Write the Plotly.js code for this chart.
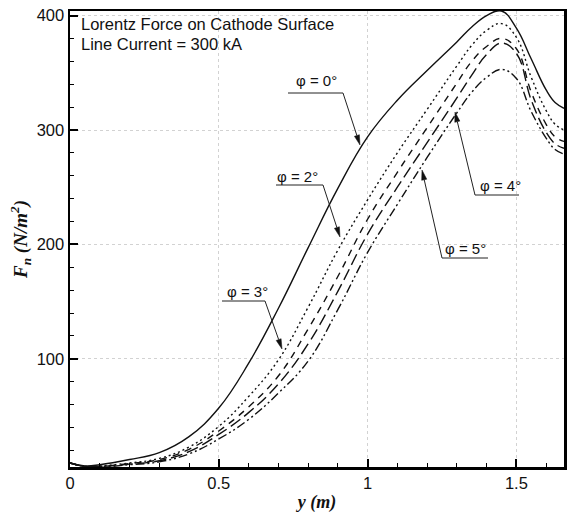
<!DOCTYPE html>
<html>
<head>
<meta charset="utf-8">
<script src="https://cdn.plot.ly/plotly-3.0.1.min.js"></script>
<style>html,body{margin:0;padding:0;background:#fff;}#chart{width:567px;height:513px;}</style>
</head>
<body>
<div id="chart"></div>
<script>
// ---- data ----
const yPos = [0, 0.05, 0.1, 0.2, 0.3, 0.4, 0.5, 0.6, 0.7, 0.8, 0.9, 1.0, 1.1, 1.2, 1.3, 1.35, 1.4, 1.45, 1.5, 1.55, 1.6, 1.63, 1.66];
const fnPhi0 = [9, 6.5, 7.5, 12, 18, 32, 57, 96, 144, 197, 249, 294, 326, 352, 377, 390, 400, 404, 389, 362, 335, 324, 319];
const fnPhi2 = [9, 6, 6.5, 9, 13, 23, 41, 67, 99, 145, 195, 239, 280, 318, 356, 374, 387, 393, 381, 346, 317, 305, 300];
const fnPhi3 = [9, 6, 6, 8.5, 12, 21, 37, 58, 85, 126, 172, 222, 263, 302, 341, 360, 373, 380, 371, 333, 305, 294, 290];
const fnPhi4 = [9, 6, 6, 8, 11, 19, 34, 53, 78, 113, 159, 209, 250, 289, 328, 348, 366, 376, 367, 326, 298, 288, 284];
const fnPhi5 = [9, 6, 5.5, 7.5, 10, 17, 30, 47, 70, 98, 143, 193, 235, 276, 315, 333, 346, 353, 345, 316, 293, 283, 279];
const seriesNames = ['φ = 0°', 'φ = 2°', 'φ = 3°', 'φ = 4°', 'φ = 5°'];
const xTicks = [0, 0.5, 1, 1.5];
const xTickText = ['0', '0.5', '1', '1.5'];
const yTicks = [100, 200, 300, 400];
const yTickText = ['100', '200', '300', '400'];

// ---- layout geometry ----
const W = 567, H = 513;
const M = {l: 70, r: 3, t: 11, b: 46};
const XR = [0, 1.66], YR = [5.5, 404];
const pw = W - M.l - M.r, ph = H - M.t - M.b;
const xd = px => XR[0] + (px - M.l) / pw * (XR[1] - XR[0]);
const yd = py => YR[1] - (py - M.t) / ph * (YR[1] - YR[0]);

const dashes = ['solid', '2px,3px', '7px,6px', '12px,5px', '9px,3px,2px,3px,2px,3px'];
const allY = [fnPhi0, fnPhi2, fnPhi3, fnPhi4, fnPhi5];
const traces = allY.map((ys, i) => ({
  x: yPos, y: ys, type: 'scatter', mode: 'lines', name: seriesNames[i],
  line: {color: '#111', width: 1.4, dash: dashes[i], shape: 'spline', smoothing: 1.2},
  hoverinfo: 'skip'
}));

// label layout (pixel positions): text centre, underline span, leader tail & tip
const labels = [
  {t: seriesNames[0], cx: 316, cy: 80, u0: 288, u1: 343, uy: 93, tail: [343, 93], tip: [360, 145]},
  {t: seriesNames[1], cx: 297, cy: 176, u0: 276, u1: 323, uy: 185, tail: [323, 185], tip: [340, 237]},
  {t: seriesNames[2], cx: 247, cy: 291, u0: 222, u1: 265, uy: 301, tail: [265, 301], tip: [282, 349]},
  {t: seriesNames[3], cx: 500, cy: 185, u0: 475, u1: 519, uy: 195, tail: [475, 195], tip: [455, 112]},
  {t: seriesNames[4], cx: 465, cy: 248, u0: 442, u1: 488, uy: 258, tail: [442, 258], tip: [422, 170]}
];
const annotations = [];
const shapes = [];
labels.forEach(L => {
  annotations.push({x: xd(L.cx), y: yd(L.cy), xref: 'x', yref: 'y', text: L.t, showarrow: false,
    font: {family: 'Liberation Sans, Arial', size: 15, color: '#111'}, xanchor: 'center', yanchor: 'middle'});
  shapes.push({type: 'line', xref: 'x', yref: 'y', x0: xd(L.u0), x1: xd(L.u1), y0: yd(L.uy), y1: yd(L.uy),
    line: {color: '#222', width: 1}});
  const dx = L.tip[0] - L.tail[0], dy = L.tip[1] - L.tail[1];
  const len = Math.hypot(dx, dy), ux = dx / len, uy = dy / len;
  const hl = 10, hw = 2.6;
  const bx = L.tip[0] - hl * ux, by = L.tip[1] - hl * uy;
  shapes.push({type: 'line', xref: 'x', yref: 'y', x0: xd(L.tail[0]), y0: yd(L.tail[1]), x1: xd(bx), y1: yd(by),
    line: {color: '#222', width: 1}});
  const p1 = [bx - hw * uy, by + hw * ux], p2 = [bx + hw * uy, by - hw * ux];
  shapes.push({type: 'path', xref: 'x', yref: 'y',
    path: `M ${xd(L.tip[0])} ${yd(L.tip[1])} L ${xd(p1[0])} ${yd(p1[1])} L ${xd(p2[0])} ${yd(p2[1])} Z`,
    fillcolor: '#111', line: {color: '#111', width: 0.5}});
});
annotations.push({xref: 'paper', yref: 'paper', x: (79 - M.l) / pw, y: 1 - (23.5 - M.t) / ph, xanchor: 'left', yanchor: 'middle',
  text: 'Lorentz Force on Cathode Surface', showarrow: false, font: {family: 'Liberation Sans, Arial', size: 16.5, color: '#111'}});
annotations.push({xref: 'paper', yref: 'paper', x: (79 - M.l) / pw, y: 1 - (44 - M.t) / ph, xanchor: 'left', yanchor: 'middle',
  text: 'Line Current = 300 kA', showarrow: false, font: {family: 'Liberation Sans, Arial', size: 16.5, color: '#111'}});

const axBase = {
  showline: true, linecolor: '#000', linewidth: 2.5, mirror: true,
  ticks: 'inside', ticklen: 8, tickwidth: 2, tickcolor: '#000',
  showgrid: true, gridcolor: '#d2d2d2', gridwidth: 1, griddash: 'dot',
  zeroline: false, tickfont: {family: 'Liberation Sans, Arial', size: 16.5, color: '#111'}
};
const layout = {
  width: W, height: H, margin: M, showlegend: false,
  paper_bgcolor: '#fff', plot_bgcolor: '#fff',
  xaxis: Object.assign({}, axBase, {
    range: XR, tickmode: 'array', tickvals: xTicks, ticktext: xTickText,
    minor: {dtick: 0.1, tick0: 0, ticks: 'inside', ticklen: 4, tickwidth: 1, tickcolor: '#000', showgrid: false},
    title: {text: '<b><i>y (m)</i></b>', font: {family: 'Liberation Serif, Times New Roman', size: 18, color: '#111'}, standoff: 9}
  }),
  yaxis: Object.assign({}, axBase, {
    range: YR, tickmode: 'array', tickvals: yTicks, ticktext: yTickText,
    minor: {dtick: 20, tick0: 0, ticks: 'inside', ticklen: 4, tickwidth: 1, tickcolor: '#000', showgrid: false},
    title: {text: '<b><i>F<sub>n</sub> (N/m<sup>2</sup>)</i></b>', font: {family: 'Liberation Serif, Times New Roman', size: 19, color: '#111'}, standoff: 4}
  }),
  annotations: annotations, shapes: shapes
};
Plotly.newPlot('chart', traces, layout, {staticPlot: true, displayModeBar: false});
</script>
</body>
</html>
